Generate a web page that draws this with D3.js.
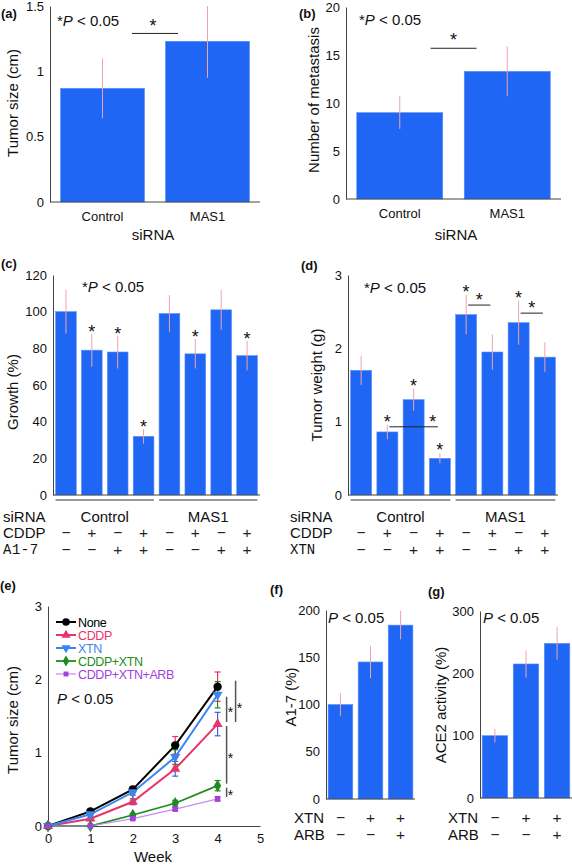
<!DOCTYPE html>
<html><head><meta charset="utf-8">
<script src="https://cdn.jsdelivr.net/npm/d3@7"></script>
<style>body{margin:0;background:#fff}svg{display:block;font-family:"Liberation Sans",Arial,sans-serif}</style>
</head><body><svg id="c" width="572" height="866"></svg>
<script>
// ---------- data ----------
const abCategories = ["Control", "MAS1"];
const aValues = [0.87, 1.23];
const aErrors = [0.23, 0.28];
const aTicks = [0, 0.5, 1, 1.5];
const bValues = [9.0, 13.3];
const bErrors = [1.7, 2.6];
const bTicks = [0, 5, 10, 15, 20];

const cdGroups = ["Control", "MAS1"];
const cValues = [100, 79, 78, 32, 99, 77, 101, 76];
const cErrors = [12, 9, 9, 4, 10, 8, 11, 8];
const cStars = [0, 1, 1, 1, 0, 1, 0, 1];
const cTicks = [0, 20, 40, 60, 80, 100, 120];
const cddpSigns = ["−", "+", "−", "+", "−", "+", "−", "+"];
const a17Signs = ["−", "−", "+", "+", "−", "−", "+", "+"];

const dValues = [1.7, 0.86, 1.3, 0.5, 2.46, 1.95, 2.35, 1.88];
const dErrors = [0.2, 0.1, 0.15, 0.07, 0.27, 0.24, 0.3, 0.2];
const dStars = [0, 1, 1, 1, 1, 0, 1, 0];
const dTicks = [0, 1, 2, 3];
const dSigPairs = [[1, 3, 0.93], [4, 5, 2.59], [6, 7, 2.48]];
const xtnSignsD = ["−", "−", "+", "+", "−", "−", "+", "+"];

const eWeeks = [0, 1, 2, 3, 4];
const eTicksX = [0, 1, 2, 3, 4, 5];
const eTicksY = [0, 1, 2, 3];
const eNames = ["None", "CDDP", "XTN", "CDDP+XTN", "CDDP+XTN+ARB"];
const eNone = [0, 0.2, 0.5, 1.1, 1.9];
const eCDDP = [0, 0.1, 0.33, 0.78, 1.39];
const eXTN = [0, 0.16, 0.46, 0.94, 1.79];
const eCX = [0, 0, 0.15, 0.31, 0.55];
const eCXA = [0, 0, 0.1, 0.23, 0.37];
const eNoneErr = [0, 0.02, 0.04, 0.12, 0.2];
const eCDDPErr = [0, 0.02, 0.04, 0.1, 0.16];
const eXTNErr = [0, 0.02, 0.04, 0.1, 0.18];
const eCXErr = [0, 0, 0.02, 0.04, 0.07];
const eCXAErr = [0, 0, 0.01, 0.02, 0.03];
const eSigPairs = [[2, 1, 1], [0, 1, 2], [1, 3, 1], [3, 4, 1]];

const fValues = [100, 145, 184];
const fErrors = [12, 17, 15];
const fTicks = [0, 50, 100, 150, 200];
const gValues = [100, 215, 248];
const gErrors = [11, 22, 26];
const gTicks = [0, 100, 200, 300];
const xtnSignsFG = ["−", "+", "+"];
const arbSignsFG = ["−", "−", "+"];

// ---------- style ----------
const BAR = "#1f66f5", BAR_EDGE = "#5a8ff6", ERR = "#f0a3aa", AX = "#444";
const svg = d3.select("#c");

function txt(x, y, s, opt = {}) {
  const t = svg.append("text").attr("x", x).attr("y", y)
    .attr("font-size", opt.size || 15)
    .attr("text-anchor", opt.anchor || "start")
    .attr("fill", opt.fill || "#111");
  if (opt.weight) t.attr("font-weight", opt.weight);
  if (opt.family) t.attr("font-family", opt.family);
  if (opt.ls) t.attr("letter-spacing", opt.ls);
  t.text(s);
  return t;
}
function pText(x, y, star) {
  const t = svg.append("text").attr("x", x).attr("y", y).attr("font-size", 15).attr("fill", "#111");
  if (star) t.append("tspan").text("*");
  t.append("tspan").attr("font-style", "italic").text("P");
  t.append("tspan").text(" < 0.05");
}
function yLabel(x, y, s) {
  svg.append("text").attr("transform", `translate(${x},${y}) rotate(-90)`)
    .attr("text-anchor", "middle").attr("dominant-baseline", "central")
    .attr("font-size", 15).attr("fill", "#111").text(s);
}
function styleAxis(g) {
  g.select(".domain").attr("stroke", AX).attr("stroke-width", 1);
  g.selectAll("text").attr("font-size", 13).attr("fill", "#111").attr("font-family", "Liberation Sans, Arial, sans-serif");
}
function star(x, y, size = 18) {
  svg.append("text").attr("x", x).attr("y", y).attr("text-anchor", "middle")
    .attr("font-size", size).attr("fill", "#111").text("*");
}
function sign(x, y, s) {
  txt(x, y, s, { anchor: "middle", size: 15.5, fill: "#222" });
}

function barPanel(cfg) {
  const x = d3.scaleBand().domain(d3.range(cfg.values.length)).range(cfg.xr)
    .paddingInner(cfg.pi).paddingOuter(cfg.po);
  const y = d3.scaleLinear().domain(cfg.yd).range(cfg.yr);
  const g = svg.append("g");
  g.selectAll("rect").data(cfg.values).join("rect")
    .attr("x", (d, i) => x(i)).attr("width", x.bandwidth())
    .attr("y", d => y(d)).attr("height", d => y(0) - y(d))
    .attr("fill", BAR).attr("stroke", BAR_EDGE).attr("stroke-width", 0.6);
  g.selectAll("line.err").data(cfg.values).join("line").attr("class", "err")
    .attr("x1", (d, i) => x(i) + x.bandwidth() / 2).attr("x2", (d, i) => x(i) + x.bandwidth() / 2)
    .attr("y1", (d, i) => y(d - cfg.errors[i])).attr("y2", (d, i) => y(Math.min(d + cfg.errors[i], cfg.yd[1])))
    .attr("stroke", ERR).attr("stroke-width", 1);
  const ya = svg.append("g").attr("transform", `translate(${cfg.xr[0]},0)`)
    .call(d3.axisLeft(y).tickValues(cfg.ticks).tickSize(0).tickPadding(6).tickFormat(d3.format("~g")));
  styleAxis(ya);
  const xa = svg.append("g").attr("transform", `translate(0,${cfg.yr[0]})`)
    .call(d3.axisBottom(x).tickSize(0).tickPadding(10).tickFormat(i => cfg.labels ? cfg.labels[i] : ""));
  styleAxis(xa);
  xa.select(".domain").attr("d", `M${cfg.xr[0]},0H${cfg.xr[1]}`);
  return { x, y, cx: i => x(i) + x.bandwidth() / 2 };
}

// ---------- (a) ----------
txt(1, 18, "(a)", { size: 13, weight: "bold" });
const A = barPanel({ values: aValues, errors: aErrors, xr: [50, 260], yr: [202, 6], yd: [0, 1.5],
  pi: 0.2, po: 0.1, ticks: aTicks, labels: abCategories });
pText(57, 26, true);
{
  const m = (A.cx(0) + A.cx(1)) / 2, yy = A.y(1.29);
  svg.append("line").attr("x1", m - 23).attr("x2", m + 23).attr("y1", yy).attr("y2", yy).attr("stroke", "#222");
  star(m - 2, yy - 1);
}
yLabel(12, 103, "Tumor size (cm)");
txt(153, 240, "siRNA", { anchor: "middle" });

// ---------- (b) ----------
txt(299, 18, "(b)", { size: 13, weight: "bold" });
const B = barPanel({ values: bValues, errors: bErrors, xr: [346, 561], yr: [199, 7], yd: [0, 20],
  pi: 0.2, po: 0.1, ticks: bTicks, labels: abCategories });
pText(359, 25, true);
{
  const m = (B.cx(0) + B.cx(1)) / 2, yy = B.y(15.7);
  svg.append("line").attr("x1", m - 23).attr("x2", m + 23).attr("y1", yy).attr("y2", yy).attr("stroke", "#222");
  star(m, yy - 2);
}
yLabel(313, 100, "Number of metastasis");
txt(456, 240, "siRNA", { anchor: "middle" });

// ---------- (c) & (d) ----------
function groupedRows(P, labelX, signs1, signs2, lab2, lab2Font) {
  [0, 1].forEach(gi => {
    const i0 = gi * 4, i1 = gi * 4 + 3;
    svg.append("line").attr("x1", P.x(i0)).attr("x2", P.x(i1) + P.x.bandwidth())
      .attr("y1", 500).attr("y2", 500).attr("stroke", "#333");
    txt((P.cx(i0) + P.cx(i1)) / 2, 522, cdGroups[gi], { anchor: "middle" });
  });
  txt(labelX, 522, "siRNA");
  txt(labelX, 538, "CDDP");
  txt(labelX, 554, lab2, lab2Font);
  signs1.forEach((s, i) => sign(P.cx(i), 538, s));
  signs2.forEach((s, i) => sign(P.cx(i), 555, s));
}
txt(1, 268, "(c)", { size: 13, weight: "bold" });
const C = barPanel({ values: cValues, errors: cErrors, xr: [53, 260], yr: [495, 275], yd: [0, 120],
  pi: 0.2, po: 0.1, ticks: cTicks });
pText(82, 292, true);
cValues.forEach((v, i) => { if (cStars[i]) star(C.cx(i), C.y(v + cErrors[i]) + 4); });
yLabel(12, 392, "Growth (%)");
groupedRows(C, 3, cddpSigns, a17Signs, "A1-7", { family: "Liberation Mono, monospace", size: 14, ls: 0.5 });

txt(301, 270, "(d)", { size: 13, weight: "bold" });
const D = barPanel({ values: dValues, errors: dErrors, xr: [348, 558], yr: [495, 275], yd: [0, 3],
  pi: 0.2, po: 0.1, ticks: dTicks });
pText(364, 293, true);
dValues.forEach((v, i) => { if (dStars[i]) star(D.cx(i), D.y(v + dErrors[i]) + 3); });
dSigPairs.forEach(([i, j, v]) => {
  const yy = D.y(v), x1 = D.cx(i) + 2, x2 = D.cx(j) - 2;
  svg.append("line").attr("x1", x1).attr("x2", x2).attr("y1", yy).attr("y2", yy).attr("stroke", "#222");
  star(j - i > 1 ? x2 - 5 : (x1 + x2) / 2, yy + 1);
});
yLabel(316, 385, "Tumor weight (g)");
groupedRows(D, 290, cddpSigns, xtnSignsD, "XTN", { family: "Liberation Mono, monospace", size: 14 });

// ---------- (e) ----------
txt(0, 590, "(e)", { size: 13, weight: "bold" });
{
  const x = d3.scaleLinear().domain([0, 5]).range([48, 260]);
  const y = d3.scaleLinear().domain([0, 3]).range([826, 606]);
  const ya = svg.append("g").attr("transform", "translate(48,0)")
    .call(d3.axisLeft(y).tickValues(eTicksY).tickSize(0).tickPadding(6).tickFormat(d3.format("d")));
  styleAxis(ya);
  const xa = svg.append("g").attr("transform", "translate(0,826)")
    .call(d3.axisBottom(x).tickValues(eTicksX).tickSize(0).tickPadding(8).tickFormat(d3.format("d")));
  styleAxis(xa);
  yLabel(12, 720, "Tumor size (cm)");
  txt(153, 862, "Week", { anchor: "middle" });
  pText(57, 704, false);

  const series = [eNone, eCDDP, eXTN, eCX, eCXA];
  const errs = [eNoneErr, eCDDPErr, eXTNErr, eCXErr, eCXAErr];
  const colors = ["#000000", "#e8336b", "#3a86f0", "#1f8a22", "#a43fe0"];
  const lineColors = ["#000000", "#e8336b", "#3a86f0", "#1f8a22", "#c58cf0"];
  const errColors = ["#e8336b", "#3a60e0", "#1f8a22", "#1f8a22", "#a43fe0"];
  const widths = [2, 2, 2, 1.8, 1.2];
  const syms = [d3.symbolCircle, d3.symbolTriangle, d3.symbolTriangle, d3.symbolDiamond, d3.symbolSquare];
  const sizes = [55, 45, 45, 45, 30];
  const rot = [0, 0, 180, 0, 0];
  const line = d3.line().x((d, i) => x(eWeeks[i])).y(d => y(d));
  series.forEach((s, k) => {
    svg.append("path").attr("d", line(s)).attr("fill", "none").attr("stroke", lineColors[k]).attr("stroke-width", widths[k]);
  });
  series.forEach((s, k) => {
    s.forEach((v, i) => {
      const e = errs[k][i]; if (!e) return;
      const cx = x(eWeeks[i]);
      const g = svg.append("g").attr("stroke", errColors[k]).attr("stroke-width", 1.2);
      g.append("line").attr("x1", cx).attr("x2", cx).attr("y1", y(v - e)).attr("y2", y(v + e));
      g.append("line").attr("x1", cx - 3).attr("x2", cx + 3).attr("y1", y(v - e)).attr("y2", y(v - e));
      g.append("line").attr("x1", cx - 3).attr("x2", cx + 3).attr("y1", y(v + e)).attr("y2", y(v + e));
    });
  });
  series.forEach((s, k) => {
    s.forEach((v, i) => {
      svg.append("path").attr("d", d3.symbol(syms[k], sizes[k])())
        .attr("transform", `translate(${x(eWeeks[i])},${y(v)}) rotate(${rot[k]})`)
        .attr("fill", colors[k]);
    });
  });
  eNames.forEach((n, k) => {
    const yy = 622 + k * 13;
    svg.append("line").attr("x1", 56).attr("x2", 76).attr("y1", yy).attr("y2", yy)
      .attr("stroke", lineColors[k]).attr("stroke-width", widths[k]);
    svg.append("path").attr("d", d3.symbol(syms[k], sizes[k] * 0.8)())
      .attr("transform", `translate(66,${yy}) rotate(${rot[k]})`).attr("fill", colors[k]);
    txt(78, yy + 4.5, n, { size: 12.5, fill: colors[k], ls: -0.4 });
  });
  eSigPairs.forEach(([a, b, lvl]) => {
    const xx = x(4) + (lvl === 1 ? 9 : 18);
    const y1 = y(series[a][4]) + 2, y2 = y(series[b][4]) - 2;
    svg.append("line").attr("x1", xx).attr("x2", xx).attr("y1", Math.min(y1, y2) - (lvl === 2 ? 8 : 0))
      .attr("y2", Math.max(y1, y2)).attr("stroke", "#555").attr("stroke-width", 1.5);
    star(xx + 4, (y1 + y2) / 2 + 8, 14);
  });
}

// ---------- (f) ----------
txt(270, 594, "(f)", { size: 13, weight: "bold" });
const F = barPanel({ values: fValues, errors: fErrors, xr: [326, 415], yr: [799, 610], yd: [0, 200],
  pi: 0.18, po: 0.07, ticks: fTicks });
pText(328, 623, false);
yLabel(290, 697, "A1-7 (%)");
txt(294, 823, "XTN"); txt(294, 840, "ARB");
xtnSignsFG.forEach((s, i) => sign(F.cx(i), 823, s));
arbSignsFG.forEach((s, i) => sign(F.cx(i), 840, s));

// ---------- (g) ----------
txt(428, 596, "(g)", { size: 13, weight: "bold" });
const G = barPanel({ values: gValues, errors: gErrors, xr: [480, 572], yr: [798, 611], yd: [0, 300],
  pi: 0.18, po: 0.07, ticks: gTicks });
pText(483, 623, false);
yLabel(440, 705, "ACE2 activity (%)");
txt(448, 823, "XTN"); txt(448, 840, "ARB");
xtnSignsFG.forEach((s, i) => sign(G.cx(i), 823, s));
arbSignsFG.forEach((s, i) => sign(G.cx(i), 840, s));
</script>
</body></html>
